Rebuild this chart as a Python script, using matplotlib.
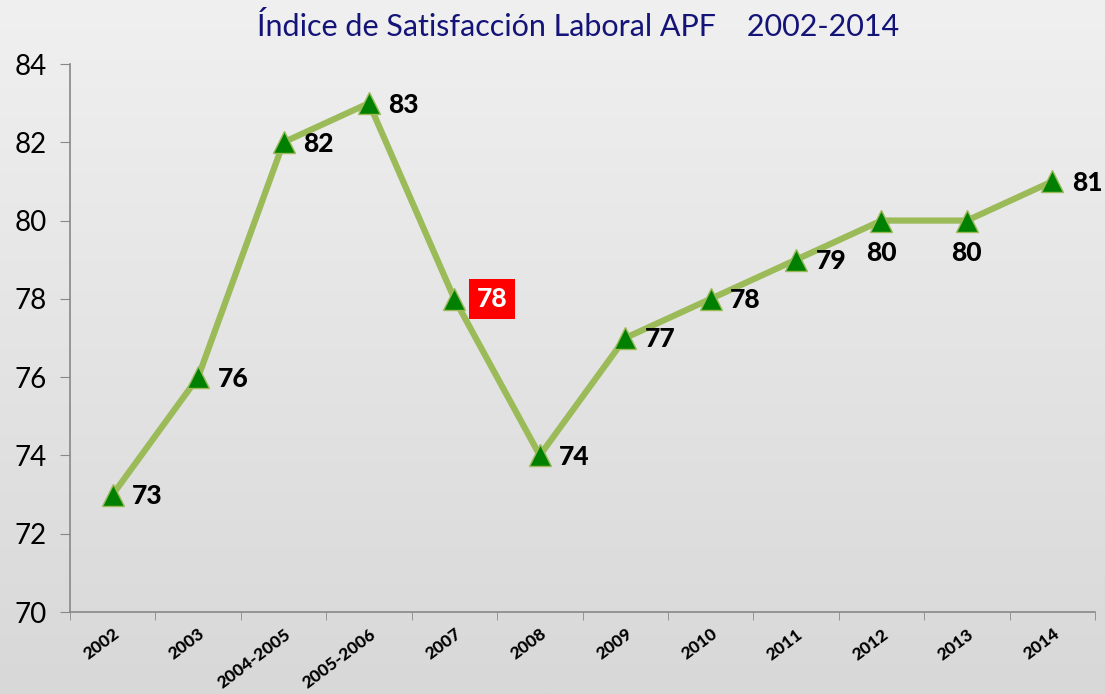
import numpy as np
import matplotlib
matplotlib.use("Agg")
import matplotlib.pyplot as plt
from matplotlib.colors import LinearSegmentedColormap

categories = ["2002", "2003", "2004-2005", "2005-2006", "2007", "2008",
              "2009", "2010", "2011", "2012", "2013", "2014"]
values = [73, 76, 82, 83, 78, 74, 77, 78, 79, 80, 80, 81]
yticks = [70, 72, 74, 76, 78, 80, 82, 84]
title = "Índice de Satisfacción Laboral APF    2002-2014"
label_pos = ["right", "right", "right", "right", "highlight", "right",
             "right", "right", "right", "below", "below", "right"]

plt.rcParams['font.family'] = ['Lato', 'DejaVu Sans']

fig = plt.figure(figsize=(11.05, 6.94), dpi=100)

# background gradient
bg = fig.add_axes([0, 0, 1, 1], zorder=0)
grad = np.linspace(0, 1, 256).reshape(-1, 1)
cmap = LinearSegmentedColormap.from_list("bg", ["#f0f0f0", "#d8d8d8"])
bg.imshow(grad, aspect="auto", cmap=cmap, extent=[0, 1, 0, 1])
bg.axis("off")

ax = fig.add_axes([70/1105, 82/694, 1025/1105, 548/694], zorder=1)
ax.patch.set_alpha(0)
x = np.arange(len(categories))
ax.plot(x, values, color="#9bbb59", lw=4.5, solid_capstyle="round", zorder=2)
ax.plot(x, values, linestyle="none", marker="^", markersize=16,
        markerfacecolor="#008000", markeredgecolor="#9bbb59", markeredgewidth=1, zorder=3)

ax.set_xlim(-0.5, len(categories) - 0.5)
ax.set_ylim(70, 84)
ax.set_yticks(yticks)
ax.set_yticklabels([str(t) for t in yticks], fontsize=20)
ax.set_xticks(x)
ax.set_xticklabels(categories, rotation=37, fontsize=12.5, fontweight=900,
                   ha="right", rotation_mode="anchor")
ax.set_xticks(np.arange(-0.5, len(categories)), minor=True)
ax.tick_params(axis="x", which="major", length=0, pad=10)
ax.tick_params(axis="x", which="minor", length=6, color="#888888", direction="out")
ax.tick_params(axis="y", length=7, color="#888888", pad=10)
for s in ["top", "right"]:
    ax.spines[s].set_visible(False)
for s in ["left", "bottom"]:
    ax.spines[s].set_color("#888888")
    ax.spines[s].set_linewidth(1.2)

lbl = dict(fontsize=19, fontweight=900)
for xi, v, pos in zip(x, values, label_pos):
    if pos == "below":
        ax.annotate(str(v), (xi, v), xytext=(0, -23), textcoords="offset points",
                    ha="center", va="center", **lbl)
    elif pos == "highlight":
        ax.annotate(str(v), (xi, v), xytext=(27, 0), textcoords="offset points",
                    ha="center", va="center", color="white",
                    bbox=dict(boxstyle="square,pad=0.3", fc="#ff0000", ec="none"), **lbl)
    else:
        ax.annotate(str(v), (xi, v), xytext=(14, -1), textcoords="offset points",
                    ha="left", va="center", **lbl)

fig.text(578/1105, 1 - 27/694, title, ha="center", va="center",
         fontsize=22, color="#141478")

fig.savefig("out.png", dpi=100)
